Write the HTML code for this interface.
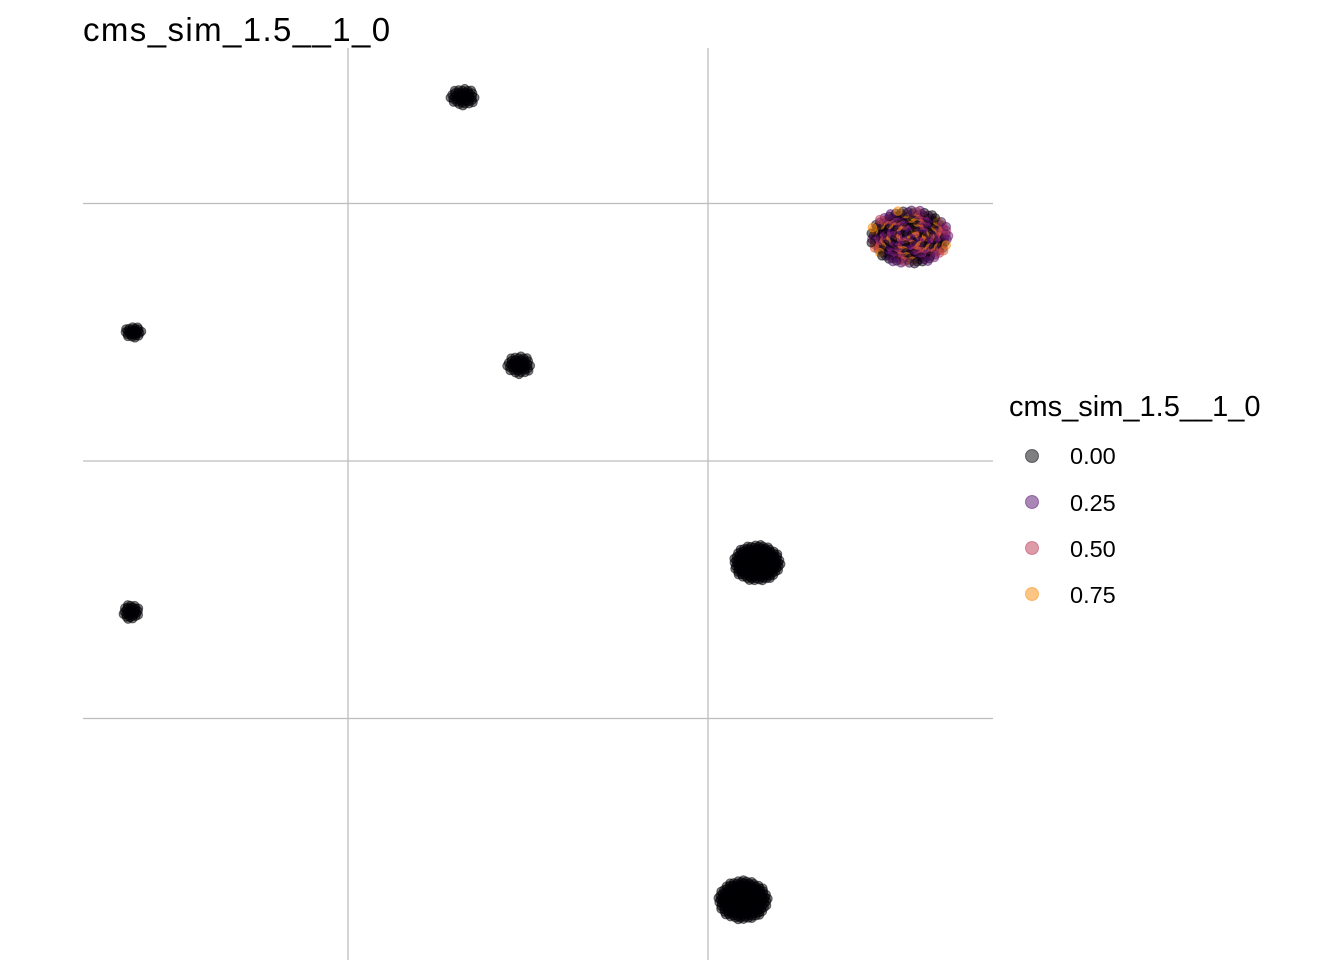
<!DOCTYPE html>
<html><head><meta charset="utf-8"><style>
body{margin:0;background:#fff;font-family:"Liberation Sans",sans-serif}
</style></head><body>
<svg id="chart" width="1344" height="960" xmlns="http://www.w3.org/2000/svg">
<text x="83" y="41" font-size="33" letter-spacing="1.4" fill="#000">cms_sim_1.5__1_0</text>
<g id="grid"></g>
<g id="pts"></g>
<g>
<text x="1009" y="416" font-size="29">cms_sim_1.5__1_0</text>
<circle cx="1032" cy="456" r="6.5" fill="#000004" fill-opacity="0.5" stroke="#000004" stroke-opacity="0.5"/>
<text x="1070" y="464" font-size="23.5">0.00</text>
<circle cx="1032" cy="502" r="6.5" fill="#56106E" fill-opacity="0.5" stroke="#56106E" stroke-opacity="0.5"/>
<text x="1070" y="511" font-size="23.5">0.25</text>
<circle cx="1032" cy="548" r="6.5" fill="#BB3754" fill-opacity="0.5" stroke="#BB3754" stroke-opacity="0.5"/>
<text x="1070" y="557" font-size="23.5">0.50</text>
<circle cx="1032" cy="594" r="6.5" fill="#F98C0A" fill-opacity="0.5" stroke="#F98C0A" stroke-opacity="0.5"/>
<text x="1070" y="603" font-size="23.5">0.75</text>
</g>
</svg>
<script>
const xTicks=[0,10];
const yTicks=[10,0,-10];
const clusterX=[3.19,15.6,-5.97,4.75,-6.03,11.36,10.97];
const clusterY=[14.14,8.7,5.0,3.73,-5.86,-3.96,-17.05];
const clusterRx=[0.42,1.3,0.3,0.4,0.28,0.78,0.82];
const clusterRy=[0.42,1.25,0.27,0.45,0.36,0.85,0.92];
const clusterN=[40,300,25,40,30,180,200];
const clusterColored=[0,1,0,0,0,0,0];
const palette=['#000004','#56106E','#000004','#BB3754','#3b0f50','#F98C0A','#000004','#781c6d','#56106E','#e35932','#1a0a2e'];
const sx=v=>348+v*36;
const sy=v=>461-v*25.75;
const ns='http://www.w3.org/2000/svg';
const grid=document.getElementById('grid');
xTicks.forEach(t=>{const l=document.createElementNS(ns,'line');
l.setAttribute('x1',sx(t));l.setAttribute('x2',sx(t));l.setAttribute('y1',48);l.setAttribute('y2',960);
l.setAttribute('stroke','#bdbdbd');l.setAttribute('stroke-width','1.3');


grid.appendChild(l);});
yTicks.forEach(t=>{const l=document.createElementNS(ns,'line');
l.setAttribute('x1',83);l.setAttribute('x2',993);l.setAttribute('y1',sy(t));l.setAttribute('y2',sy(t));
l.setAttribute('stroke','#bdbdbd');l.setAttribute('stroke-width','1.3');


grid.appendChild(l);});
const pts=document.getElementById('pts');
const ga=2.399963;
clusterX.forEach((cx,i)=>{
 const n=clusterN[i];
 for(let k=0;k<n;k++){
  const r=Math.sqrt((k+0.5)/n)*0.85;
  const a=k*ga;
  const c=document.createElementNS(ns,'circle');
  c.setAttribute('cx',sx(cx+clusterRx[i]*r*Math.cos(a)));
  c.setAttribute('cy',sy(clusterY[i]+clusterRy[i]*r*Math.sin(a)));
  c.setAttribute('r',4.3);
  const col=clusterColored[i]?palette[(k*7+Math.floor(k/11))%palette.length]:'#000004';
  c.setAttribute('fill',col);c.setAttribute('fill-opacity','0.5');
  c.setAttribute('stroke',col);c.setAttribute('stroke-opacity','0.5');
  
  
  pts.appendChild(c);
 }
});
</script>
</body></html>
